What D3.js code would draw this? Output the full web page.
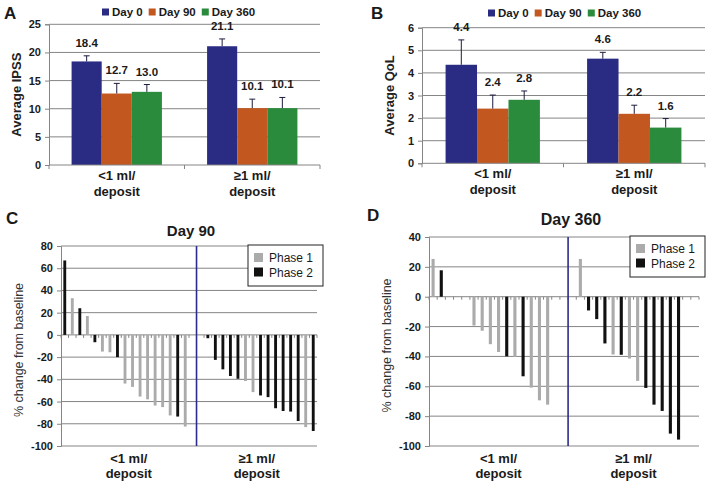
<!DOCTYPE html>
<html>
<head>
<meta charset="utf-8">
<script src="https://cdn.jsdelivr.net/npm/d3@7/dist/d3.min.js"></script>
<style>
html,body{margin:0;padding:0;background:#fff;}
svg{display:block;font-family:"Liberation Sans",Arial,sans-serif;}
</style>
</head>
<body>
<svg id="chart" width="714" height="484"></svg>
<script>
// ---------------- DATA ----------------
const groupLabels = [["<1 ml/", "deposit"], ["\u22651 ml/", "deposit"]];
const timepoints = ["Day 0", "Day 90", "Day 360"];
const timeColors = ["#2a2b82", "#c2571f", "#2a8b3c"];

const ipssMeans = [[18.4, 12.7, 13.0], [21.1, 10.1, 10.1]];
const ipssErrors = [[1.0, 1.8, 1.3], [1.3, 1.6, 1.9]];
const ipssTicks = [0, 5, 10, 15, 20, 25];

const qolMeans = [[4.36, 2.42, 2.81], [4.63, 2.19, 1.58]];
const qolErrors = [[1.1, 0.6, 0.39], [0.28, 0.38, 0.4]];
const qolTicks = [0, 1, 2, 3, 4, 5, 6];

const phaseNames = ["Phase 1", "Phase 2"];
const phaseColors = ["#ababab", "#111111"];

// Day 90 waterfall (null = empty slot)
const d90LowValues  = [67, 33, 24, 17, -6.6, -15, -15.6, -20, -43.8, -46.8, -55.5, -58, -63.6, -65, -72.5, -73.5, -82.5, null];
const d90LowPhase   = [2, 1, 2, 1, 2, 1, 1, 2, 1, 1, 1, 1, 1, 1, 1, 2, 1, null];
const d90HighValues = [null, -3, -22.5, -31, -37, -39.5, -41.5, -51.5, -54.5, -56, -66, -68.5, -69, -77.5, -83, -86.5];
const d90HighPhase  = [null, 2, 2, 2, 2, 2, 1, 1, 2, 2, 2, 2, 2, 2, 1, 2];
const d90Ticks = [-100, -80, -60, -40, -20, 0, 20, 40, 60, 80];

// Day 360 waterfall
const d360LowValues  = [25.3, 17.7, null, null, null, -19.3, -22.8, -31.8, -37, -39.9, -40.3, -53.3, -60.9, -69.4, -72.3, null, null];
const d360LowPhase   = [1, 2, null, null, null, 1, 1, 1, 1, 2, 1, 2, 1, 1, 1, null, null];
const d360HighValues = [null, 25.3, -9.2, -15, -31.3, -38.7, -38.9, -41.4, -56.4, -61.1, -72.3, -76.5, -91.7, -95.7, null, null];
const d360HighPhase  = [null, 1, 2, 2, 2, 1, 2, 1, 1, 2, 2, 2, 2, 2, null, null];
const d360Ticks = [-100, -80, -60, -40, -20, 0, 20, 40];

// ---------------- DRAWING ----------------
const svg = d3.select("#chart");
const gridColor = "#858585";
const textColor = "#1a1a1a";

function panelLetter(letter, x, y) {
  svg.append("text").attr("x", x).attr("y", y).text(letter)
    .attr("font-size", 17).attr("font-weight", "bold").attr("fill", textColor);
}

function barPanel(o) {
  const g = svg.append("g");
  const y = d3.scaleLinear().domain([0, d3.max(o.ticks)]).range([o.bottom, o.top]);
  const x0 = d3.scaleBand().domain(d3.range(o.means.length)).range([o.left, o.right]).paddingInner(0).paddingOuter(0);
  const bw = x0.bandwidth();
  const x1 = d3.scaleBand().domain(d3.range(timepoints.length)).range([bw * 0.1667, bw * 0.8333]);

  g.selectAll(".grid").data(o.ticks.filter(t => t > 0)).join("line")
    .attr("x1", o.left).attr("x2", o.right)
    .attr("y1", d => y(d)).attr("y2", d => y(d))
    .attr("stroke", gridColor).attr("stroke-width", 1);

  const yAxis = d3.axisLeft(y).tickValues(o.ticks).tickSize(4).tickFormat(d3.format("d"));
  const ya = g.append("g").attr("transform", `translate(${o.left},0)`).call(yAxis);
  ya.select(".domain").attr("stroke", gridColor);
  ya.selectAll(".tick line").attr("stroke", gridColor);
  ya.selectAll(".tick text").attr("font-size", 11).attr("font-weight", "bold")
    .attr("fill", textColor).attr("font-family", "Liberation Sans, Arial, sans-serif").attr("x", -8);

  o.means.forEach((grp, gi) => {
    grp.forEach((v, ti) => {
      const bx = x0(gi) + x1(ti);
      g.append("rect").attr("x", bx).attr("y", y(v)).attr("width", x1.bandwidth())
        .attr("height", y(0) - y(v)).attr("fill", timeColors[ti]);
      const cx = bx + x1.bandwidth() / 2;
      const top = v + o.errs[gi][ti];
      g.append("line").attr("x1", cx).attr("x2", cx).attr("y1", y(v)).attr("y2", y(top))
        .attr("stroke", "#1c1c40").attr("stroke-width", 1);
      g.append("line").attr("x1", cx - 3).attr("x2", cx + 3).attr("y1", y(top)).attr("y2", y(top))
        .attr("stroke", "#1c1c40").attr("stroke-width", 1);
      g.append("text").attr("x", cx).attr("y", y(top) - 9).attr("text-anchor", "middle")
        .attr("font-size", 11.5).attr("font-weight", "bold").attr("fill", textColor)
        .text(v.toFixed(1));
    });
  });

  g.append("line").attr("x1", o.left).attr("x2", o.right).attr("y1", y(0)).attr("y2", y(0))
    .attr("stroke", gridColor);
  const bounds = d3.range(o.means.length + 1).map(i => o.left + i * bw);
  g.selectAll(".xt").data(bounds).join("line")
    .attr("x1", d => d).attr("x2", d => d).attr("y1", y(0)).attr("y2", y(0) + 4)
    .attr("stroke", gridColor);

  groupLabels.forEach((lines, gi) => {
    const t = g.append("text").attr("text-anchor", "middle").attr("font-size", 13)
      .attr("font-weight", "bold").attr("fill", textColor);
    lines.forEach((ln, li) => {
      t.append("tspan").attr("x", x0(gi) + bw / 2).attr("y", y(0) + 15 + li * 16).text(ln);
    });
  });

  g.append("text").attr("transform", `translate(${o.left - 33},${(o.top + o.bottom) / 2}) rotate(-90)`)
    .attr("text-anchor", "middle").attr("dy", "0.35em").attr("font-size", 13).attr("font-weight", "bold")
    .attr("fill", "#222").text(o.yLabel);

  let lx = o.legendX;
  const ly = o.legendY;
  timepoints.forEach((tp, i) => {
    g.append("rect").attr("x", lx).attr("y", ly - 3.5).attr("width", 7).attr("height", 7).attr("fill", timeColors[i]);
    const t = g.append("text").attr("x", lx + 10).attr("y", ly + 4).attr("font-size", 11.5)
      .attr("font-weight", "bold").attr("fill", textColor).text(tp);
    lx += 10 + t.node().getComputedTextLength() + 6;
  });
}

function waterfallPanel(o) {
  const g = svg.append("g");
  const y = d3.scaleLinear().domain([d3.min(o.ticks), d3.max(o.ticks)]).range([o.bottom, o.top]);
  const n = o.low.length + o.high.length;
  const x = d3.scaleBand().domain(d3.range(n)).range([o.left, o.right]).paddingInner(0).paddingOuter(0);
  const step = x.step();
  const all = o.low.map((v, i) => ({v, p: o.lowP[i]})).concat(o.high.map((v, i) => ({v, p: o.highP[i]})));

  g.selectAll(".grid").data(o.ticks).join("line")
    .attr("x1", o.left).attr("x2", o.right)
    .attr("y1", d => y(d)).attr("y2", d => y(d))
    .attr("stroke", gridColor).attr("stroke-width", 1);

  const yAxis = d3.axisLeft(y).tickValues(o.ticks).tickSize(4).tickFormat(d3.format("d"));
  const ya = g.append("g").attr("transform", `translate(${o.left},0)`).call(yAxis);
  ya.select(".domain").attr("stroke", gridColor);
  ya.selectAll(".tick line").attr("stroke", gridColor);
  ya.selectAll(".tick text").attr("font-size", 11).attr("font-weight", "bold")
    .attr("fill", textColor).attr("font-family", "Liberation Sans, Arial, sans-serif").attr("x", -8)
    .text(d => d3.format("d")(d).replace("\u2212", "-"));

  g.selectAll(".zt").data(d3.range(n + 1)).join("line")
    .attr("x1", d => o.left + d * step).attr("x2", d => o.left + d * step)
    .attr("y1", y(0)).attr("y2", y(0) + 3).attr("stroke", gridColor);

  const bw = step * 0.38;
  g.selectAll(".bar").data(all.map((d, i) => ({...d, i})).filter(d => d.v !== null)).join("rect")
    .attr("x", d => x(d.i) + step / 2 - bw / 2)
    .attr("y", d => y(Math.max(0, d.v)))
    .attr("width", bw)
    .attr("height", d => Math.abs(y(d.v) - y(0)))
    .attr("fill", d => phaseColors[d.p - 1]);

  const sepX = x(o.low.length);
  g.append("line").attr("x1", sepX).attr("x2", sepX).attr("y1", o.top).attr("y2", o.bottom)
    .attr("stroke", "#2c2c8e").attr("stroke-width", 1.6);

  const centers = [
    (x(0) + x(o.low.length - 1) + step) / 2,
    (x(o.low.length) + x(n - 1) + step) / 2
  ];
  groupLabels.forEach((lines, gi) => {
    const t = g.append("text").attr("text-anchor", "middle").attr("font-size", 13)
      .attr("font-weight", "bold").attr("fill", textColor);
    lines.forEach((ln, li) => {
      t.append("tspan").attr("x", centers[gi]).attr("y", o.bottom + 17 + li * 15).text(ln);
    });
  });

  g.append("text").attr("transform", `translate(${o.left - 42},${(o.top + o.bottom) / 2 + 4}) rotate(-90)`)
    .attr("text-anchor", "middle").attr("dy", "0.35em").attr("font-size", 12.5)
    .attr("fill", "#333").text("% change from baseline");

  g.append("text").attr("x", o.titleX).attr("y", o.titleY).attr("text-anchor", "middle")
    .attr("font-size", o.titleSize).attr("font-weight", "bold").attr("fill", textColor).text(o.title);

  const bx = o.right - 69, by = o.top - 1;
  g.append("rect").attr("x", bx).attr("y", by).attr("width", 75).attr("height", 41)
    .attr("fill", "#fff").attr("stroke", "#222").attr("stroke-width", 1);
  phaseNames.forEach((nm, i) => {
    g.append("rect").attr("x", bx + 6).attr("y", by + 8 + i * 14.5).attr("width", 9).attr("height", 9)
      .attr("fill", phaseColors[i]);
    g.append("text").attr("x", bx + 21).attr("y", by + 17 + i * 14.5).attr("font-size", 12)
      .attr("fill", textColor).text(nm);
  });
}

panelLetter("A", 4, 19);
barPanel({left: 49, right: 320, top: 24.3, bottom: 165, means: ipssMeans, errs: ipssErrors,
  ticks: ipssTicks, yLabel: "Average IPSS", legendX: 102, legendY: 12});

panelLetter("B", 371, 19);
barPanel({left: 422, right: 705, top: 27.7, bottom: 163.3, means: qolMeans, errs: qolErrors,
  ticks: qolTicks, yLabel: "Average QoL", legendX: 488, legendY: 13});

panelLetter("C", 6, 224);
waterfallPanel({left: 61, right: 317, top: 246, bottom: 446, low: d90LowValues, lowP: d90LowPhase,
  high: d90HighValues, highP: d90HighPhase, ticks: d90Ticks, title: "Day 90", titleX: 191, titleY: 236, titleSize: 15});

panelLetter("D", 367, 221);
waterfallPanel({left: 429, right: 699, top: 237, bottom: 446, low: d360LowValues, lowP: d360LowPhase,
  high: d360HighValues, highP: d360HighPhase, ticks: d360Ticks, title: "Day 360", titleX: 571, titleY: 225, titleSize: 16});
</script>
</body>
</html>
